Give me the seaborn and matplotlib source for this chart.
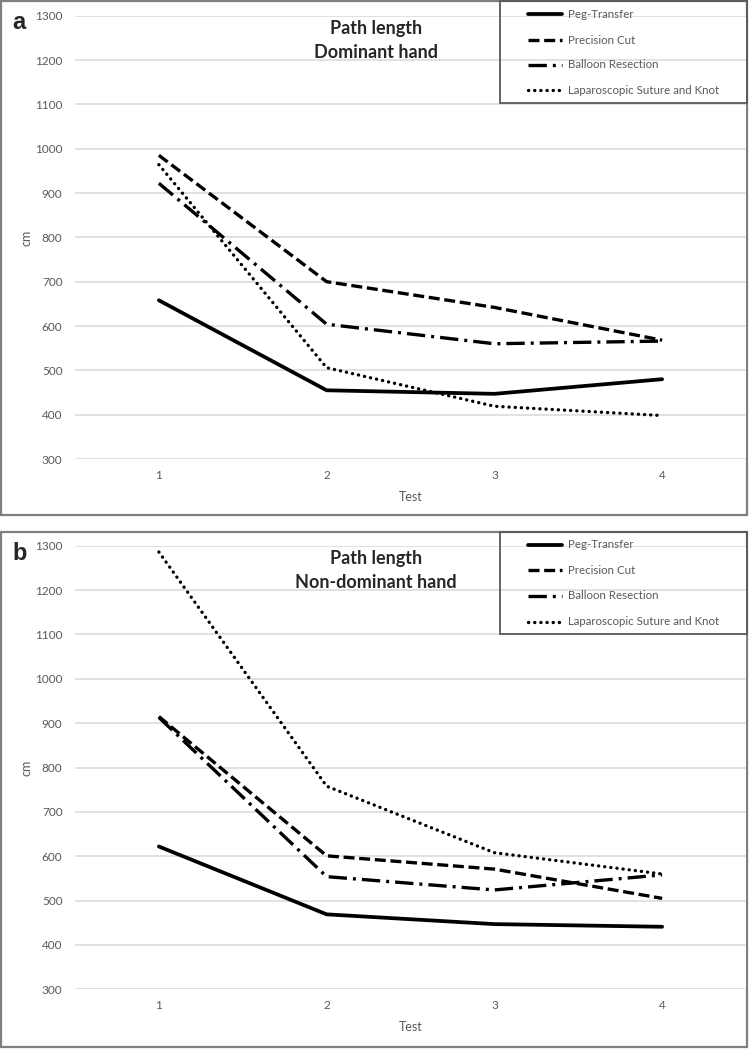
import pandas as pd
import seaborn as sns
import matplotlib.pyplot as plt
from matplotlib.patches import Rectangle
from matplotlib.lines import Line2D

# Path length (cm) per test
tests = [1, 2, 3, 4]
tasks = ["Peg-Transfer", "Precision Cut", "Balloon Resection", "Laparoscopic Suture and Knot"]

dominant = {
    "Peg-Transfer": [658, 455, 447, 480],
    "Precision Cut": [985, 700, 642, 568],
    "Balloon Resection": [922, 604, 560, 566],
    "Laparoscopic Suture and Knot": [964, 506, 419, 398],
}
non_dominant = {
    "Peg-Transfer": [622, 469, 447, 441],
    "Precision Cut": [915, 601, 571, 505],
    "Balloon Resection": [913, 554, 524, 558],
    "Laparoscopic Suture and Knot": [1286, 758, 608, 560],
}
yticks = [300, 400, 500, 600, 700, 800, 900, 1000, 1100, 1200, 1300]

sns.set_style("white")
plt.rcParams["font.family"] = ["Lato", "DejaVu Sans"]

W, H = 749, 1050
fig = plt.figure(figsize=(W / 100, H / 100), dpi=100)

dashes = {
    "Peg-Transfer": "",
    "Precision Cut": (3.3, 1.4),
    "Balloon Resection": (5.5, 1.8, 0.9, 1.8),
    "Laparoscopic Suture and Knot": (0.05, 1.8),
}
widths = [2.7, 2.4, 2.4, 2.4]
caps = ["butt", "butt", "butt", "round"]
grey = "#595959"


def px(x0, y0, x1, y1):
    # pixel box -> figure fraction rect
    return [x0 / W, 1 - y1 / H, (x1 - x0) / W, (y1 - y0) / H]


def panel(values, letter, subtitle, box, ax_box, leg_box, leg_y):
    fig.add_artist(Rectangle((box[0] / W, 1 - box[3] / H), (box[2] - box[0]) / W,
                             (box[3] - box[1]) / H, transform=fig.transFigure,
                             fill=False, edgecolor="#7f7f7f", lw=1.6, zorder=0))
    ax = fig.add_axes(px(*ax_box))
    df = pd.DataFrame([(t, task, v) for task in tasks for t, v in zip(tests, values[task])],
                      columns=["Test", "Task", "cm"])
    sns.lineplot(data=df, x="Test", y="cm", hue="Task", style="Task",
                 hue_order=tasks, style_order=tasks, dashes=dashes,
                 palette=["black"] * 4, lw=2.3, legend=False, ax=ax)
    for ln, w, c in zip(ax.get_lines(), widths, caps):
        ln.set_linewidth(w)
        ln.set_dash_capstyle(c)
    ax.set_xlim(0.5, 4.5)
    ax.set_ylim(300, 1300)
    ax.set_xticks(tests)
    ax.set_yticks(yticks)
    ax.grid(axis="y", color="#d9d9d9", lw=1.1)
    ax.grid(axis="x", visible=False)
    for s in ax.spines.values():
        s.set_visible(False)
    ax.tick_params(length=0, labelsize=8.5, labelcolor=grey)
    ax.tick_params(axis="y", pad=9)
    ax.tick_params(axis="x", pad=8)
    ax.set_xlabel("Test", fontsize=9, color=grey, labelpad=7)
    ax.set_ylabel("cm", fontsize=9, color=grey, labelpad=2)
    ax.text(0.448, 0.99, "Path length\n" + subtitle,
            transform=ax.transAxes, ha="center", va="top", fontsize=13,
            fontweight="bold", linespacing=1.5)
    fig.text(12 / W, 1 - (box[1] + 10) / H, letter, fontsize=17, fontweight="bold",
             family="Liberation Sans", va="top", ha="left")

    # legend frame and entries
    fig.add_artist(Rectangle((leg_box[0] / W, 1 - leg_box[3] / H),
                             (leg_box[2] - leg_box[0]) / W,
                             (leg_box[3] - leg_box[1]) / H, transform=fig.transFigure,
                             fill=False, edgecolor="#595959", lw=1.3, zorder=5))
    for task, yy, ln in zip(tasks, leg_y, ax.get_lines()):
        h = Line2D([528 / W, 562 / W], [1 - yy / H] * 2, transform=fig.transFigure,
                   color="black", lw=ln.get_linewidth(),
                   dashes=dashes[task] if dashes[task] else (None, None),
                   dash_capstyle=ln.get_dash_capstyle())
        fig.add_artist(h)
        fig.text(568 / W, 1 - yy / H, task, fontsize=8.3, color=grey, va="center")
    return ax


panel(dominant, "a", "Dominant hand", (1, 1, 747, 515), (75, 15.7, 746, 459),
      (500, 1, 747, 103), [14, 40, 65, 90])
panel(non_dominant, "b", "Non-dominant hand", (1, 532, 747, 1047), (75, 545.8, 746, 989.3),
      (500, 532, 747, 634), [544.5, 570, 595.5, 621.5])

fig.savefig("out.png", dpi=100)
